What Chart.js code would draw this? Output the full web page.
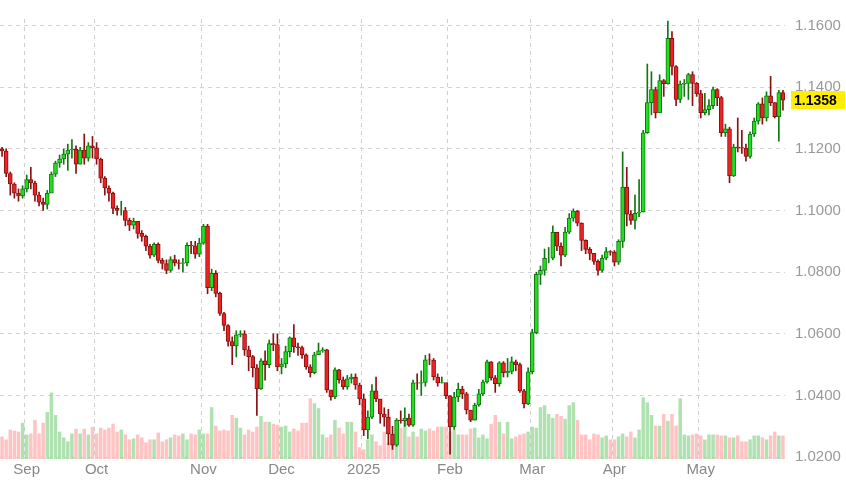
<!DOCTYPE html>
<html>
<head>
<meta charset="utf-8">
<script src="https://cdn.jsdelivr.net/npm/chart.js@4"></script>
<style>
  html, body { margin: 0; padding: 0; background: #fff; }
  #wrap { width: 846px; height: 481px; }
</style>
</head>
<body>
<div id="wrap"><canvas id="c"></canvas></div>
<script>
// Daily candles, late Aug 2024 - May 2025 (open = previous close)
const closeAug = [1.1193,1.1120,1.1086,1.1056,1.1047,1.1070];
const highAug  = [1.1205,1.1200,1.1125,1.1090,1.1070,1.1080];
const lowAug   = [1.1175,1.1110,1.1050,1.1040,1.1030,1.1040];

const closeSep = [1.1100,1.1089,1.1050,1.1027,1.1020,1.1056,1.1118,1.1154,1.1167,1.1183,1.1196,1.1198,1.1150,1.1196,1.1170,1.1210,1.1203];
const highSep  = [1.1115,1.1140,1.1095,1.1060,1.1040,1.1065,1.1125,1.1160,1.1180,1.1200,1.1215,1.1230,1.1210,1.1205,1.1248,1.1220,1.1240];
const lowSep   = [1.1060,1.1070,1.1030,1.1015,1.1000,1.1005,1.1110,1.1110,1.1140,1.1150,1.1130,1.1170,1.1120,1.1150,1.1150,1.1160,1.1170];

const closeOct = [1.1167,1.1105,1.1073,1.1056,1.1007,1.1000,1.1000,1.0968,1.0952,1.0965,1.0926,1.0916,1.0884,1.0855,1.0890,1.0838,1.0828,1.0806,1.0841,1.0830,1.0828,1.0830,1.0887,1.0885,1.0858,1.0894];
const highOct  = [1.1220,1.1170,1.1110,1.1080,1.1060,1.1015,1.1030,1.1010,1.0975,1.0975,1.0965,1.0935,1.0920,1.0890,1.0895,1.0895,1.0845,1.0840,1.0850,1.0855,1.0840,1.0845,1.0895,1.0900,1.0900,1.0910];
const lowOct   = [1.1150,1.1090,1.1050,1.1030,1.0990,1.0985,1.0985,1.0950,1.0935,1.0940,1.0910,1.0900,1.0870,1.0845,1.0850,1.0830,1.0810,1.0795,1.0800,1.0820,1.0810,1.0800,1.0820,1.0860,1.0845,1.0850];

const closeNov = [1.0949,1.0750,1.0796,1.0731,1.0666,1.0627,1.0575,1.0561,1.0597,1.0600,1.0548,1.0526,1.0490,1.0421,1.0512,1.0500,1.0568,1.0565,1.0493];
const highNov  = [1.0955,1.0955,1.0810,1.0805,1.0735,1.0670,1.0630,1.0590,1.0610,1.0610,1.0610,1.0560,1.0530,1.0500,1.0520,1.0545,1.0580,1.0600,1.0600];
const lowNov   = [1.0890,1.0730,1.0740,1.0720,1.0660,1.0610,1.0560,1.0500,1.0525,1.0590,1.0530,1.0480,1.0460,1.0335,1.0420,1.0450,1.0490,1.0545,1.0480];

const closeDec = [1.0502,1.0542,1.0587,1.0558,1.0555,1.0532,1.0493,1.0474,1.0532,1.0545,1.0548,1.0418,1.0395,1.0483,1.0451,1.0428,1.0454,1.0460,1.0434,1.0389];
const highDec  = [1.0520,1.0560,1.0590,1.0630,1.0570,1.0560,1.0535,1.0500,1.0540,1.0570,1.0555,1.0550,1.0410,1.0490,1.0485,1.0460,1.0465,1.0470,1.0470,1.0440];
const lowDec   = [1.0470,1.0490,1.0525,1.0540,1.0530,1.0520,1.0485,1.0460,1.0470,1.0535,1.0540,1.0410,1.0385,1.0390,1.0440,1.0420,1.0420,1.0440,1.0420,1.0370];

const closeJan = [1.0288,1.0330,1.0415,1.0389,1.0340,1.0330,1.0275,1.0239,1.0320,1.0318,1.0327,1.0304,1.0441,1.0440,1.0442,1.0516,1.0515,1.0460,1.0441,1.0442,1.0399];
const highJan  = [1.0405,1.0350,1.0435,1.0460,1.0375,1.0360,1.0355,1.0300,1.0325,1.0350,1.0360,1.0340,1.0450,1.0470,1.0480,1.0530,1.0535,1.0520,1.0470,1.0460,1.0420];
const lowJan   = [1.0270,1.0260,1.0325,1.0380,1.0310,1.0300,1.0240,1.0225,1.0235,1.0310,1.0300,1.0300,1.0300,1.0420,1.0400,1.0430,1.0500,1.0450,1.0430,1.0440,1.0390];

const closeFeb = [1.0298,1.0395,1.0421,1.0405,1.0353,1.0320,1.0369,1.0405,1.0444,1.0509,1.0457,1.0438,1.0506,1.0474,1.0478,1.0509,1.0500,1.0415,1.0373,1.0477];
const highFeb  = [1.0400,1.0410,1.0440,1.0430,1.0410,1.0345,1.0375,1.0420,1.0450,1.0515,1.0510,1.0465,1.0510,1.0510,1.0520,1.0525,1.0515,1.0505,1.0420,1.0490];
const lowFeb   = [1.0210,1.0290,1.0380,1.0390,1.0340,1.0315,1.0320,1.0365,1.0400,1.0440,1.0450,1.0410,1.0430,1.0460,1.0460,1.0470,1.0480,1.0410,1.0360,1.0370];

const closeMar = [1.0604,1.0793,1.0806,1.0845,1.0845,1.0929,1.0884,1.0855,1.0930,1.0975,1.0998,1.0959,1.0903,1.0874,1.0861,1.0835,1.0806,1.0845,1.0867,1.0865];
const highMar  = [1.0615,1.0800,1.0820,1.0875,1.0880,1.0950,1.0925,1.0895,1.0945,1.0990,1.1005,1.1000,1.0960,1.0905,1.0880,1.0860,1.0840,1.0855,1.0880,1.0870];
const lowMar   = [1.0470,1.0600,1.0760,1.0790,1.0830,1.0840,1.0870,1.0820,1.0850,1.0925,1.0965,1.0950,1.0870,1.0860,1.0840,1.0825,1.0790,1.0800,1.0840,1.0855];

const closeApr = [1.0832,1.0900,1.1076,1.0988,1.0968,1.0991,1.0995,1.1252,1.1350,1.1392,1.1316,1.1421,1.1411,1.1558,1.1467,1.1360,1.1410,1.1412,1.1441,1.1412,1.1379];
const highApr  = [1.0870,1.0905,1.1190,1.1140,1.1000,1.1050,1.1100,1.1260,1.1475,1.1450,1.1400,1.1440,1.1425,1.1614,1.1580,1.1470,1.1420,1.1425,1.1445,1.1450,1.1415];
const lowApr   = [1.0820,1.0825,1.0880,1.0950,1.0955,1.0940,1.0980,1.0995,1.1250,1.1310,1.1300,1.1320,1.1370,1.1410,1.1440,1.1340,1.1350,1.1370,1.1360,1.1340,1.1370];

const closeMay = [1.1317,1.1327,1.1340,1.1392,1.1366,1.1252,1.1265,1.1112,1.1206,1.1204,1.1202,1.1175,1.1248,1.1290,1.1346,1.1300,1.1372,1.1350,1.1304,1.1382,1.1358];
const highMay  = [1.1390,1.1380,1.1360,1.1400,1.1395,1.1370,1.1280,1.1270,1.1215,1.1300,1.1260,1.1215,1.1255,1.1300,1.1350,1.1365,1.1385,1.1435,1.1350,1.1390,1.1390];
const lowMay   = [1.1300,1.1310,1.1310,1.1330,1.1340,1.1240,1.1240,1.1090,1.1110,1.1190,1.1185,1.1160,1.1170,1.1240,1.1280,1.1280,1.1290,1.1340,1.1300,1.1225,1.1325];

// relative volume per day
const volume = [
  23,20,30,29,28,37,
  25,26,40,26,37,48,68,45,28,22,18,26,31,26,31,25,33,
  26,32,30,32,36,28,30,25,20,21,25,22,17,20,20,27,18,20,22,25,24,26,20,26,25,30,
  26,26,53,34,29,30,29,45,42,32,25,30,28,33,44,38,38,36,35,
  33,34,28,31,29,37,37,62,57,52,25,22,25,40,32,26,38,38,28,12,
  10,20,25,18,14,28,17,22,14,32,42,23,28,23,31,29,31,29,33,33,33,
  28,30,25,25,25,31,32,22,25,21,36,45,38,26,38,21,23,25,26,28,
  33,32,53,55,46,42,46,44,41,55,58,40,25,25,20,26,25,22,24,20,
  20,23,26,23,28,22,30,63,58,45,34,34,46,39,46,34,62,25,24,25,26,
  24,20,25,25,25,24,24,22,22,24,18,18,20,24,24,22,20,24,28,24,24
];

const firstOpen = 1.1200;
const monthLabels = ['Sep', 'Oct', 'Nov', 'Dec', '2025', 'Feb', 'Mar', 'Apr', 'May'];
const priceTicks = [1.02, 1.04, 1.06, 1.08, 1.10, 1.12, 1.14, 1.16];

const closes = [...closeAug, ...closeSep, ...closeOct, ...closeNov, ...closeDec, ...closeJan, ...closeFeb, ...closeMar, ...closeApr, ...closeMay];
const highs = [...highAug, ...highSep, ...highOct, ...highNov, ...highDec, ...highJan, ...highFeb, ...highMar, ...highApr, ...highMay];
const lows = [...lowAug, ...lowSep, ...lowOct, ...lowNov, ...lowDec, ...lowJan, ...lowFeb, ...lowMar, ...lowApr, ...lowMay];
const opens = closes.map((c, i) => i === 0 ? firstOpen : closes[i - 1]);

// index where each labelled month starts
const monthLens = [closeAug, closeSep, closeOct, closeNov, closeDec, closeJan, closeFeb, closeMar, closeApr].map(a => a.length);
const monthStart = {};
let acc = 0;
monthLens.forEach((n, k) => { acc += n; monthStart[acc] = monthLabels[k]; });

const labels = closes.map((_, i) => i);
const isUp = closes.map((c, i) => c >= opens[i]);

const lastPricePlugin = {
  id: 'lastPrice',
  afterDraw(chart) {
    const { ctx } = chart;
    const y = chart.scales.y.getPixelForValue(closes[closes.length - 1]);
    ctx.save();
    ctx.fillStyle = '#ffee00';
    ctx.fillRect(791, y - 9, 54, 18);
    ctx.fillStyle = '#000';
    ctx.font = 'bold 14px "Liberation Sans", Arial, sans-serif';
    ctx.textBaseline = 'middle';
    ctx.fillText(closes[closes.length - 1].toFixed(4), 794, y + 1);
    ctx.restore();
  }
};

new Chart(document.getElementById('c'), {
  type: 'bar',
  data: {
    labels,
    datasets: [
      {
        label: 'body',
        data: closes.map((c, i) => [opens[i], c]),
        backgroundColor: isUp.map(u => u ? '#22dd22' : '#ee2222'),
        borderColor: isUp.map(u => u ? '#117711' : '#881111'),
        borderWidth: 1,
        borderSkipped: false,
        barThickness: 4,
        grouped: false,
        order: 1
      },
      {
        label: 'wick',
        data: highs.map((h, i) => [lows[i], h]),
        backgroundColor: isUp.map(u => u ? '#117711' : '#881111'),
        barThickness: 1,
        grouped: false,
        order: 2
      },
      {
        label: 'volume',
        data: volume,
        yAxisID: 'v',
        backgroundColor: isUp.map(u => u ? 'rgba(150,215,150,0.75)' : 'rgba(255,180,180,0.8)'),
        barPercentage: 0.85,
        categoryPercentage: 1,
        grouped: false,
        order: 3
      }
    ]
  },
  options: {
    responsive: true,
    maintainAspectRatio: false,
    animation: false,
    layout: { padding: { top: -17, right: 0, bottom: 0, left: 0 } },
    plugins: { legend: { display: false }, tooltip: { enabled: false } },
    scales: {
      x: {
        grid: {
          color: c => monthStart[c.index] ? '#cfcfcf' : 'transparent',
          drawTicks: false
        },
        border: { display: false, dash: [4, 4] },
        ticks: {
          autoSkip: false,
          maxRotation: 0,
          padding: 2,
          color: '#888',
          font: { size: 15, family: '"Liberation Sans", Arial, sans-serif' },
          callback: (v, i) => monthStart[i] || ''
        }
      },
      y: {
        position: 'right',
        min: 1.0194,
        max: 1.1621,
        afterBuildTicks: s => { s.ticks = priceTicks.map(v => ({ value: v })); },
        afterFit: s => { s.width = 61; },
        grid: { color: '#d4d4d4', drawTicks: false },
        border: { display: false, dash: [4, 4] },
        ticks: {
          padding: 10,
          color: '#999',
          font: { size: 15, family: '"Liberation Sans", Arial, sans-serif' },
          callback: v => v.toFixed(4)
        }
      },
      v: {
        display: false,
        min: 0,
        max: 450
      }
    }
  },
  plugins: [lastPricePlugin]
});
</script>
</body>
</html>
